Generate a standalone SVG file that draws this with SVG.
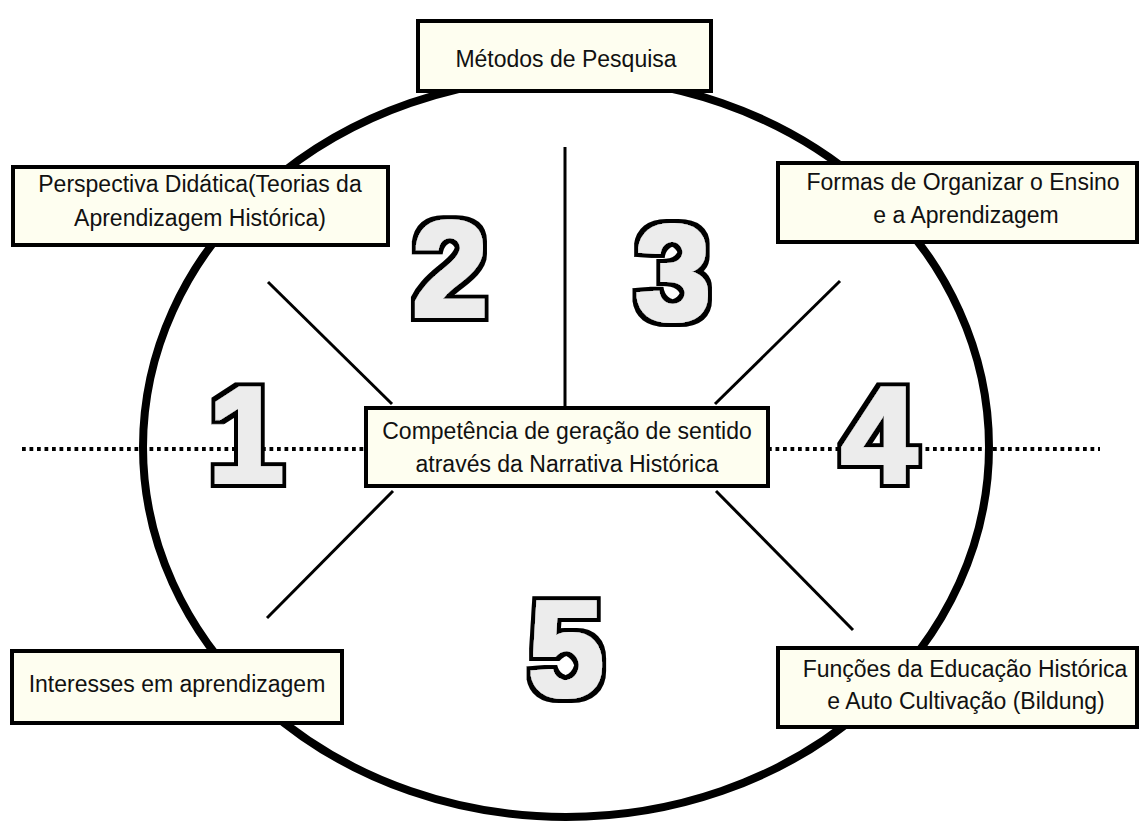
<svg xmlns="http://www.w3.org/2000/svg" width="1142" height="828" viewBox="0 0 1142 828">
<style>
.box{fill:#fefef0;stroke:#000;stroke-width:4}
.lbl{font-family:"Liberation Sans",Arial,sans-serif;font-size:23px;fill:#111;text-anchor:middle}
.num{font-family:"Liberation Sans",Arial,sans-serif;font-weight:bold;font-size:136px;fill:#ececec;text-anchor:middle;filter:url(#heavy)}
.ln{stroke:#000;stroke-width:3;fill:none}
.dot{stroke:#000;stroke-width:4;stroke-dasharray:3.75 3.75;fill:none}
</style>
<defs>
<filter id="heavy" x="-40%" y="-30%" width="180%" height="160%">
<feMorphology in="SourceAlpha" operator="dilate" radius="1.5" result="body"/>
<feMorphology in="SourceAlpha" operator="dilate" radius="5.5" result="outer"/>
<feFlood flood-color="#000000" result="k"/>
<feComposite in="k" in2="outer" operator="in" result="outline"/>
<feFlood flood-color="#ececec" result="g"/>
<feComposite in="g" in2="body" operator="in" result="fillb"/>
<feMerge><feMergeNode in="outline"/><feMergeNode in="fillb"/></feMerge>
</filter>
</defs>
<rect width="1142" height="828" fill="#fff"/>
<ellipse id="ring" cx="566" cy="447" rx="423" ry="370" fill="none" stroke="#000" stroke-width="8"/>
<g id="connectors">
<line class="dot" x1="22" y1="449" x2="366" y2="449"/>
<line class="dot" x1="768" y1="449" x2="1100" y2="449"/>
<line class="ln" x1="565" y1="147" x2="565" y2="408"/>
<line class="ln" x1="268" y1="282" x2="392" y2="404"/>
<line class="ln" x1="840" y1="281" x2="715" y2="404"/>
<line class="ln" x1="393" y1="491" x2="267" y2="618"/>
<line class="ln" x1="716" y1="491" x2="853" y2="630"/>
</g>
<g id="n-metodos">
<rect class="box" x="418" y="21" width="293" height="70"/>
<text class="lbl" x="566" y="67">Métodos de Pesquisa</text>
</g>
<g id="n-perspectiva">
<rect class="box" x="13" y="167" width="375" height="78"/>
<text class="lbl" x="200" y="192">Perspectiva Didática(Teorias da</text>
<text class="lbl" x="200" y="226">Aprendizagem Histórica)</text>
</g>
<g id="n-formas">
<rect class="box" x="778" y="163" width="359" height="79"/>
<text class="lbl" x="963" y="190">Formas de Organizar o Ensino</text>
<text class="lbl" x="966" y="223">e a Aprendizagem</text>
</g>
<g id="n-centro">
<rect class="box" x="366" y="408" width="402" height="78"/>
<text class="lbl" x="567" y="439">Competência de geração de sentido</text>
<text class="lbl" x="567" y="472">através da Narrativa Histórica</text>
</g>
<g id="n-interesses">
<rect class="box" x="12" y="651" width="330" height="72"/>
<text class="lbl" x="177" y="692">Interesses em aprendizagem</text>
</g>
<g id="n-funcoes">
<rect class="box" x="778" y="648" width="359" height="79"/>
<text class="lbl" x="965" y="677">Funções da Educação Histórica</text>
<text class="lbl" x="966" y="709">e Auto Cultivação (Bildung)</text>
</g>
<g id="numbers">
<text class="num" x="246" y="482">1</text>
<text class="num" x="450" y="316">2</text>
<text class="num" x="673" y="319">3</text>
<text class="num" x="879" y="482">4</text>
<text class="num" x="566" y="696">5</text>
</g>
</svg>
